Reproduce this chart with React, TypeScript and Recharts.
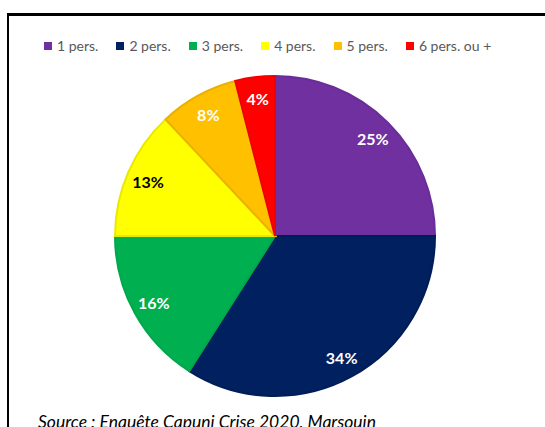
import React from "react";
import { PieChart, Pie, Cell } from "recharts";

const categories = ["1 pers.", "2 pers.", "3 pers.", "4 pers.", "5 pers.", "6 pers. ou +"];
const shares = [25, 34, 16, 13, 8, 4];
const colors = ["#7030A0", "#002060", "#00B050", "#FFFF00", "#FFC000", "#FF0000"];
const strokes = ["#6A2D98", "#001D58", "#00A84C", "#E8E800", "#EBB000", "#F00000"];
const labelColors = ["#FFFFFF", "#FFFFFF", "#FFFFFF", "#000000", "#FFFFFF", "#FFFFFF"];

const data = categories.map((name, i) => ({ name, value: shares[i] }));

const FONT = "Lato, 'Open Sans', sans-serif";
const RAD = Math.PI / 180;

const renderLabel = (props: any) => {
  const { cx, cy, midAngle, outerRadius, index, value } = props;
  const r = outerRadius * 0.865;
  const x = cx + r * Math.cos(-midAngle * RAD);
  const y = cy + r * Math.sin(-midAngle * RAD);
  return (
    <text
      x={x}
      y={y}
      fill={labelColors[index]}
      textAnchor="middle"
      dominantBaseline="central"
      fontFamily={FONT}
      fontWeight={700}
      fontSize={16}
    >
      {`${value}%`}
    </text>
  );
};

export default function App() {
  return (
    <div style={{ position: "absolute", left: 0, top: 0, width: 545, height: 427, overflow: "hidden", background: "#fff" }}>
      <div
        style={{
          position: "absolute",
          left: 7,
          top: 13,
          width: 600,
          height: 500,
          borderTop: "3px solid #000",
          borderLeft: "2.5px solid #000",
          boxSizing: "border-box",
        }}
      />
      <div
        style={{
          position: "absolute",
          left: 44,
          top: 37,
          display: "flex",
          fontFamily: FONT,
          fontSize: 14,
          lineHeight: "18px",
          color: "#595959",
          whiteSpace: "nowrap",
        }}
      >
        {categories.map((c, i) => (
          <div key={c} style={{ display: "flex", alignItems: "center", marginRight: 18 }}>
            <span style={{ width: 8, height: 8, background: colors[i], marginRight: 5, display: "inline-block" }} />
            <span>{c}</span>
          </div>
        ))}
      </div>
      <PieChart
        width={545}
        height={427}
        margin={{ top: 0, right: 0, bottom: 0, left: 0 }}
        style={{ position: "absolute", left: 0, top: 0 }}
      >
        <Pie
          data={data}
          dataKey="value"
          nameKey="name"
          cx={275}
          cy={236}
          outerRadius={160}
          startAngle={90}
          endAngle={-270}
          label={renderLabel}
          labelLine={false}
          isAnimationActive={false}
        >
          {data.map((d, i) => (
            <Cell key={d.name} fill={colors[i]} stroke={strokes[i]} strokeWidth={2} />
          ))}
        </Pie>
      </PieChart>
      <div
        style={{
          position: "absolute",
          left: 38,
          top: 411,
          fontFamily: FONT,
          fontStyle: "italic",
          fontSize: 17.5,
          color: "#000",
          whiteSpace: "nowrap",
        }}
      >
        Source : Enquête Capuni Crise 2020, Marsouin
      </div>
    </div>
  );
}
